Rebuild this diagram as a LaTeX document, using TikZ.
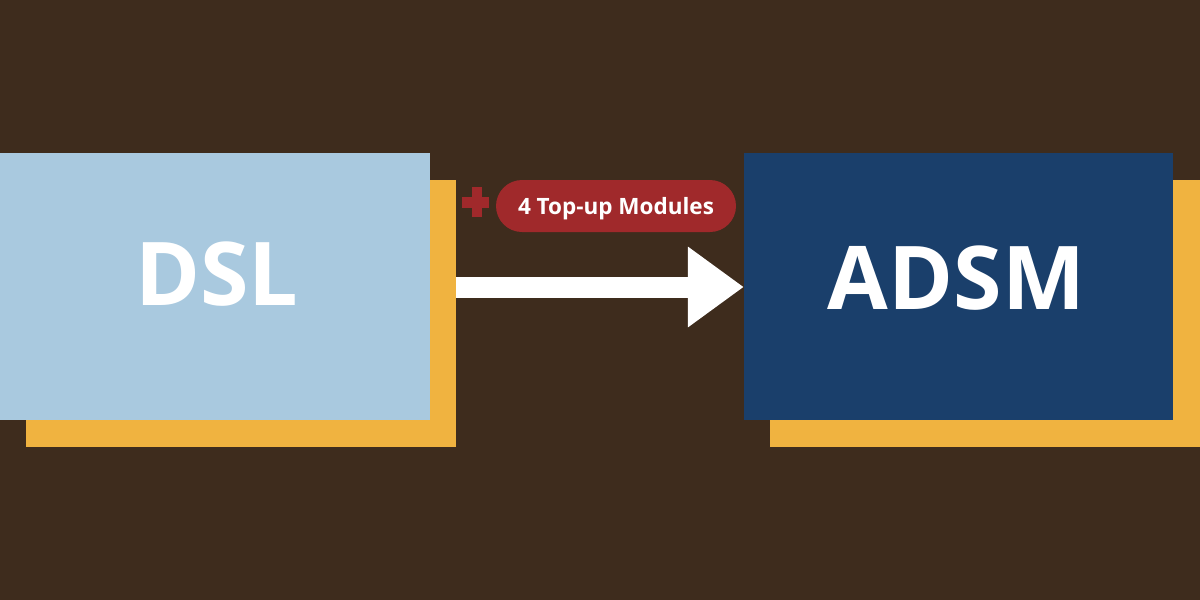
\documentclass[tikz,border=0pt]{standalone}
\usepackage{fontspec}
\setmainfont{Open Sans}
\usetikzlibrary{arrows.meta,positioning,calc}

\definecolor{bgbrown}{HTML}{3E2C1D}
\definecolor{skyblue}{HTML}{A9C9DF}
\definecolor{navyblue}{HTML}{1A3F6B}
\definecolor{ochre}{HTML}{F0B340}
\definecolor{brickred}{HTML}{A0292B}

\tikzset{
  panel/.style={inner sep=0pt, minimum width=430pt, minimum height=267pt},
  biglabel/.style={text=white, font=\fontsize{88}{88}\selectfont\bfseries, inner sep=0pt},
  pill/.style={fill=brickred, text=white, rounded corners=26pt, minimum width=240pt, minimum height=52pt,
    inner sep=0pt, text depth=0pt, font=\fontsize{22.5}{22.5}\selectfont\bfseries}
}

\begin{document}
\begin{tikzpicture}[x=1pt, y=-1pt, >=Latex]
  \useasboundingbox (0,0) rectangle (1200,600);
  \fill[bgbrown] (0,0) rectangle (1200,600);

  % yellow backing panels
  \node[panel, fill=ochre] (dslback) at (241,313) {};
  \node[panel, fill=ochre] (adsmback) at (985,313) {};

  % main panels
  \node[panel, fill=skyblue] (dsl) at (215,286.5) {};
  \node[panel, fill=navyblue, minimum width=429pt] (adsm) at (958.5,286.5) {};
  \node[biglabel] (dsltext) at ([xshift=2pt, yshift=12pt]dsl.center) {DSL};
  \node[biglabel] (adsmtext) at ([xshift=-2pt, yshift=8.5pt]adsm.center) {ADSM};

  % arrow
  \coordinate (arrstart) at (dslback.east |- 0,287);
  \coordinate (arrend) at (adsm.west |- 0,287);
  \draw[white, line width=21pt, -{Triangle[length=56pt, width=77pt]}] (arrstart) -- (arrend);

  % top-up label
  \node[pill] (topup) at (616,206) {4 Top-up Modules};
  \coordinate (plus) at (476,202);
  \fill[brickred] ($(plus)+(-14,-5.5)$) rectangle ($(plus)+(13,5.5)$);
  \fill[brickred] ($(plus)+(-4,-15)$) rectangle ($(plus)+(6,15)$);
\end{tikzpicture}
\end{document}
